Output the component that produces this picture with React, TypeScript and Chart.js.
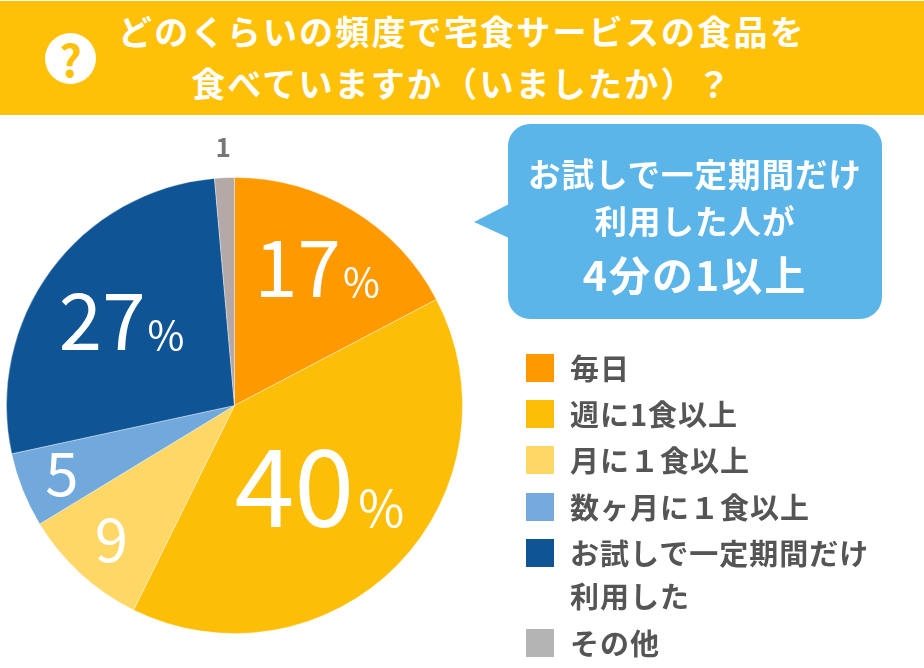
import React, { useEffect, useRef } from "react";
import { Chart, registerables } from "chart.js";

Chart.register(...registerables);

// ---- data ----
const categories = ["毎日", "週に1食以上", "月に１食以上", "数ヶ月に１食以上", "お試しで一定期間だけ\n利用した", "その他"];
const sliceValues = [17.3, 40.0, 9.0, 5.3, 27.0, 1.4];
const valueLabels = ["17", "40", "9", "5", "27", "1"];
const titleLines = ["どのくらいの頻度で宅食サービスの食品を", "食べていますか（いましたか）？"];
const calloutLines = ["お試しで一定期間だけ", "利用した人が", "4分の1以上"];

// ---- styles ----
const sliceColors = ["#FF9900", "#FCBE07", "#FFD766", "#71A9DC", "#0F5495", "#B4A9A6"];
const swatchColors = ["#FF9900", "#FCBE07", "#FFD766", "#76AADF", "#0F5495", "#B4B4B4"];
const labelRadius = [0.7, 0.52, 0.8, 0.815, 0.615, 1.13];
const labelSize = [78, 108, 60, 60, 78, 26];
const percentSize = [40, 50, 0, 0, 40, 0];
const percentGap = [2, 4, 0, 0, 2, 0];
const labelColor = ["#fff", "#fff", "#fff", "#fff", "#fff", "#777"];
const labelWeight = [400, 400, 400, 400, 400, 700];
const FONT = '"Noto Sans CJK JP", "Noto Sans", sans-serif';

const sliceLabels = {
  id: "sliceLabels",
  afterDatasetsDraw(chart: any) {
    const ctx = chart.ctx;
    const arcs = chart.getDatasetMeta(0).data;
    ctx.save();
    ctx.textBaseline = "alphabetic";
    ctx.textAlign = "left";
    arcs.forEach((arc: any, i: number) => {
      const { x, y, startAngle, endAngle, outerRadius } = arc.getProps(["x", "y", "startAngle", "endAngle", "outerRadius"]);
      const mid = (startAngle + endAngle) / 2;
      const cx = x + Math.cos(mid) * outerRadius * labelRadius[i];
      const cy = y + Math.sin(mid) * outerRadius * labelRadius[i];
      const size = labelSize[i];
      const pct = percentSize[i];
      ctx.fillStyle = labelColor[i];
      ctx.font = `${labelWeight[i]} ${size}px ${FONT}`;
      const w = ctx.measureText(valueLabels[i]).width;
      let pw = 0;
      if (pct) {
        ctx.font = `400 ${pct}px ${FONT}`;
        pw = ctx.measureText("%").width + percentGap[i];
      }
      const left = cx - (w + pw) / 2;
      const base = cy + size * 0.36;
      ctx.font = `${labelWeight[i]} ${size}px ${FONT}`;
      ctx.fillText(valueLabels[i], left, base);
      if (pct) {
        ctx.font = `400 ${pct}px ${FONT}`;
        ctx.fillText("%", left + w + percentGap[i], base);
      }
    });
    ctx.restore();
  },
};

const legendRows = [367, 413, 459, 506, 552, 642];

export default function App() {
  const ref = useRef<HTMLCanvasElement>(null);
  useEffect(() => {
    const chart = new Chart(ref.current as HTMLCanvasElement, {
      type: "pie",
      data: {
        labels: categories,
        datasets: [
          {
            data: sliceValues,
            backgroundColor: sliceColors,
            borderColor: "rgba(255,255,255,0.35)",
            borderWidth: 1,
          },
        ],
      },
      options: {
        responsive: false,
        animation: false,
        layout: { padding: { left: 6, top: 177, right: 461, bottom: 34 } },
        plugins: { legend: { display: false }, tooltip: { enabled: false } },
      },
      plugins: [sliceLabels],
    } as any);
    return () => chart.destroy();
  }, []);

  const text: React.CSSProperties = { position: "absolute", fontFamily: FONT, fontWeight: 700, whiteSpace: "pre", transform: "translateY(-50%)" };

  return (
    <div style={{ position: "absolute", left: 0, top: 0, width: 924, height: 668, background: "#fff", overflow: "hidden" }}>
      <canvas ref={ref} width={924} height={668} style={{ position: "absolute", left: 0, top: 0 }} />

      <div style={{ position: "absolute", left: 0, top: 1, width: 924, height: 114, background: "#FFC107" }} />
      <div
        style={{
          position: "absolute", left: 45, top: 33, width: 51, height: 51, borderRadius: "50%", background: "#fff",
          color: "#FFC107", fontFamily: FONT, fontWeight: 700, fontSize: 44, lineHeight: "50px", textAlign: "center",
        }}
      >
        ?
      </div>
      {titleLines.map((t, i) => (
        <div
          key={t}
          style={{
            ...text, left: 0, width: 924, textAlign: "center", top: 30 + i * 52, color: "#fff", fontSize: 34, letterSpacing: 2.2,
          }}
        >
          {t}
        </div>
      ))}

      <svg width={60} height={60} style={{ position: "absolute", left: 470, top: 192 }}>
        <polygon points="4,30 39,12 39,46" fill="#5BB5E8" />
      </svg>
      <div style={{ position: "absolute", left: 508, top: 124, width: 374, height: 195, borderRadius: 22, background: "#5BB5E8" }} />
      {calloutLines.map((t, i) => (
        <div
          key={t}
          style={{
            ...text, left: 508, width: 374, textAlign: "center", top: [172, 219, 273][i], color: "#fff",
            fontSize: i === 2 ? 41 : 32.5, letterSpacing: i === 2 ? 2 : 1,
          }}
        >
          {t}
        </div>
      ))}

      {categories.map((c, i) => (
        <React.Fragment key={c}>
          <div
            style={{
              position: "absolute", left: 526, top: legendRows[i] - 13, width: 28, height: 28, background: swatchColors[i],
            }}
          />
          {c.split("\n").map((line, j) => (
            <div
              key={line}
              style={{ ...text, left: 570, top: legendRows[i] + j * 43, color: "#555", fontSize: 29, letterSpacing: 1 }}
            >
              {line}
            </div>
          ))}
        </React.Fragment>
      ))}
    </div>
  );
}
